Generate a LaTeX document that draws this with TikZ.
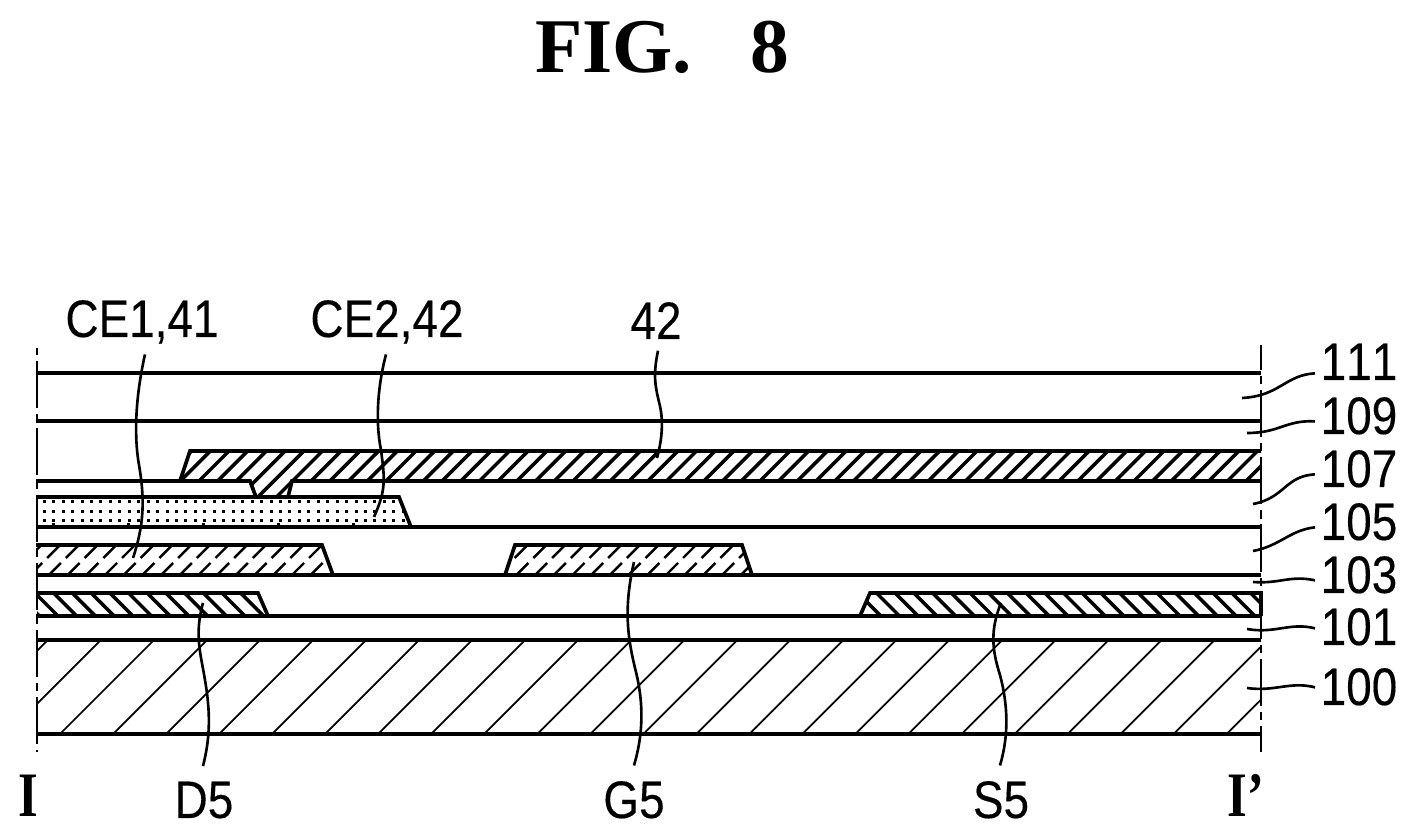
\documentclass[tikz,border=0pt]{standalone}
\usepackage{fontspec}
\setmainfont{Liberation Serif}
\newfontfamily\labelfont[FakeStretch=0.87, FakeBold=0.25, Kerning=Off]{Liberation Sans}
\newfontfamily\cutfont[FakeStretch=0.8]{Liberation Serif}
\tikzset{
    layer/.style={line width=1.05pt, line join=miter},
    heavyhatch/.style={line width=1pt},
    midhatch/.style={line width=0.7pt},
    thinhatch/.style={line width=0.5pt},
    cutline/.style={line width=0.65pt, dash pattern=on 13.4pt off 1.7pt on 2.3pt off 1.7pt},
    leader/.style={line width=0.75pt},
    partlabel/.style={font=\labelfont\fontsize{15}{15}\selectfont, inner sep=0pt, anchor=base},
    reflabel/.style={partlabel, anchor=base west},
    cutlabel/.style={font=\cutfont\bfseries\fontsize{18}{18}\selectfont, inner sep=0pt, anchor=base}
}
\begin{document}
\begin{tikzpicture}[x=0.01cm, y=-0.01cm]
    \useasboundingbox (0, 0) rectangle (1420, 840);
    \node[font=\bfseries\fontsize{22}{22}\selectfont, inner sep=0pt, anchor=base] (title) at (662, 73) {FIG.\ \ \ 8};

    % substrate hatch
    \begin{scope}
        \clip (37, 640) rectangle (1261, 734);
        \foreach \k in {-2,...,23}
            \draw[thinhatch] ({60+53.03*\k}, 734) -- ({154+53.03*\k}, 640);
    \end{scope}
    % D5, S5
    \begin{scope}
        \clip (37, 593) -- (258, 593) -- (268, 616) -- (37, 616) -- cycle
            (860, 616) -- (870, 593) -- (1261, 593) -- (1261, 616) -- cycle;
        \foreach \k in {-2,...,66}
            \draw[heavyhatch] ({-558+18.7*\k+590}, 590) -- ({-558+18.7*\k+620}, 620);
    \end{scope}
    % CE1, G5
    \begin{scope}
        \clip (37, 545) -- (322, 545) -- (333, 575) -- (37, 575) -- cycle
            (505, 575) -- (515, 545) -- (742, 545) -- (752, 575) -- cycle;
        \foreach \k in {-6,...,35} {
            \draw[midhatch] ({680+18.7*\k-575}, 575) -- ({680+18.7*\k-563}, 563);
            \draw[midhatch] ({680+18.7*\k-558}, 558) -- ({680+18.7*\k-545}, 545);
        }
    \end{scope}
    % CE2 dots
    \begin{scope}
        \clip (37, 497) -- (399, 497) -- (411, 527) -- (37, 527) -- cycle;
        \foreach \k in {0,...,38}
            \foreach \r in {500, 510, 519.5}
                \fill ({42.7+9.45*\k}, \r) rectangle +(3, 3);
        \foreach \k in {0,...,4}
            \fill ({52+75*\k}, 523.5) rectangle +(2.5, 3);
    \end{scope}
    % 42 with its contact
    \begin{scope}
        \clip (180, 481) -- (190, 451) -- (1261, 451) -- (1261, 481) -- (292, 481)
            -- (288, 497) -- (256, 497) -- (250, 481) -- cycle;
        \foreach \k in {-3,...,57}
            \draw[heavyhatch] ({680+18.7*\k-500}, 500) -- ({680+18.7*\k-450}, 450);
    \end{scope}

    \draw[layer] (36, 373) -- (1261, 373) (36, 421) -- (1261, 421);
    \draw[layer] (180, 481) -- (190, 451) -- (1261, 451);
    \draw[layer] (36, 481) -- (250, 481) -- (256, 497) (288, 497) -- (292, 481) -- (1261, 481);
    \draw[layer] (36, 497) -- (399, 497) -- (411, 527);
    \draw[layer] (36, 527) -- (1261, 527);
    \draw[layer] (36, 545) -- (322, 545) -- (333, 575);
    \draw[layer] (505, 575) -- (515, 545) -- (742, 545) -- (752, 575);
    \draw[layer] (36, 575) -- (1261, 575);
    \draw[layer] (36, 593) -- (258, 593) -- (268, 616);
    \draw[layer] (860, 616) -- (870, 593) -- (1261, 593) -- (1261, 616);
    \draw[layer] (36, 616) -- (1261, 616);
    \draw[layer] (36, 640) -- (1261, 640) (36, 734) -- (1261, 734);

    \draw[cutline, dash phase=15.4pt] (37, 348) -- (37, 752);
    \draw[cutline, dash phase=6.26pt] (1261, 345) -- (1261, 752);

    \node[cutlabel] (cutleft) at (28.5, 817) {I};
    \node[cutlabel] (cutright) at (1246, 817) {I’};

    \node[partlabel] (ceone) at (142, 337) {CE1,41};
    \node[partlabel] (cetwo) at (387, 337) {CE2,42};
    \node[partlabel] (topfortytwo) at (656, 339) {42};
    \node[partlabel] (dfive) at (204, 818) {D5};
    \node[partlabel] (gfive) at (634, 818) {G5};
    \node[partlabel] (sfive) at (1001, 818) {S5};
    \node[reflabel] (r111) at (1320, 380) {111};
    \node[reflabel] (r109) at (1320, 434) {109};
    \node[reflabel] (r107) at (1320, 487) {107};
    \node[reflabel] (r105) at (1320, 540) {105};
    \node[reflabel] (r103) at (1320, 593) {103};
    \node[reflabel] (r101) at (1320, 645) {101};
    \node[reflabel] (r100) at (1320, 705) {100};

    \coordinate (ceoneend) at (133, 558);
    \coordinate (cetwoend) at (374, 517);
    \coordinate (fortytwoend) at (657, 458);
    \coordinate (dfiveend) at (203, 603);
    \coordinate (gfiveend) at (634, 562);
    \coordinate (sfiveend) at (1001, 603);
    \coordinate (e111) at (1242, 398);
    \coordinate (e109) at (1247, 433);
    \coordinate (e107) at (1253, 504);
    \coordinate (e105) at (1253, 551);
    \coordinate (e103) at (1253, 582);
    \coordinate (e101) at (1247, 629);
    \coordinate (e100) at (1247, 688);

    \draw[leader] (ceone.south) ++(3, 10)
        .. controls (137, 390) and (133, 430) .. (139, 465)
        .. controls (145, 500) and (144, 525) .. (ceoneend);
    \draw[leader] (cetwo.south) ++(-1, 10)
        .. controls (378, 385) and (375, 420) .. (381, 450)
        .. controls (385, 480) and (386, 490) .. (cetwoend);
    \draw[leader] (topfortytwo.south) ++(2, 11)
        .. controls (653, 375) and (655, 385) .. (659, 402)
        .. controls (664, 420) and (662, 440) .. (fortytwoend);
    \draw[leader] (dfive.north) ++(-1, -15)
        .. controls (211, 735) and (210, 710) .. (205, 680)
        .. controls (201, 655) and (194, 635) .. (dfiveend);
    \draw[leader] (gfive.north) ++(0, -15)
        .. controls (643, 735) and (644, 705) .. (636, 672)
        .. controls (628, 640) and (623, 610) .. (gfiveend);
    \draw[leader] (sfive.north) ++(-1, -15)
        .. controls (1009, 735) and (1008, 705) .. (1000, 675)
        .. controls (992, 650) and (990, 630) .. (sfiveend);
    \draw[leader] (r111.west) ++(-5, 11.5) .. controls (1285, 375) and (1280, 396) .. (e111);
    \draw[leader] (r109.west) ++(-5, 5.5) .. controls (1285, 420) and (1280, 433) .. (e109);
    \draw[leader] (r107.west) ++(-5, 5.5) .. controls (1285, 476) and (1285, 498) .. (e107);
    \draw[leader] (r105.west) ++(-5, 5.5) .. controls (1290, 530) and (1280, 546) .. (e105);
    \draw[leader] (r103.west) ++(-5, 5.5) .. controls (1290, 575) and (1280, 584) .. (e103);
    \draw[leader] (r101.west) ++(-5, 1.5) .. controls (1290, 622) and (1275, 634) .. (e101);
    \draw[leader] (r100.west) ++(-5, 0.5) .. controls (1290, 681) and (1275, 692) .. (e100);
\end{tikzpicture}
\end{document}
